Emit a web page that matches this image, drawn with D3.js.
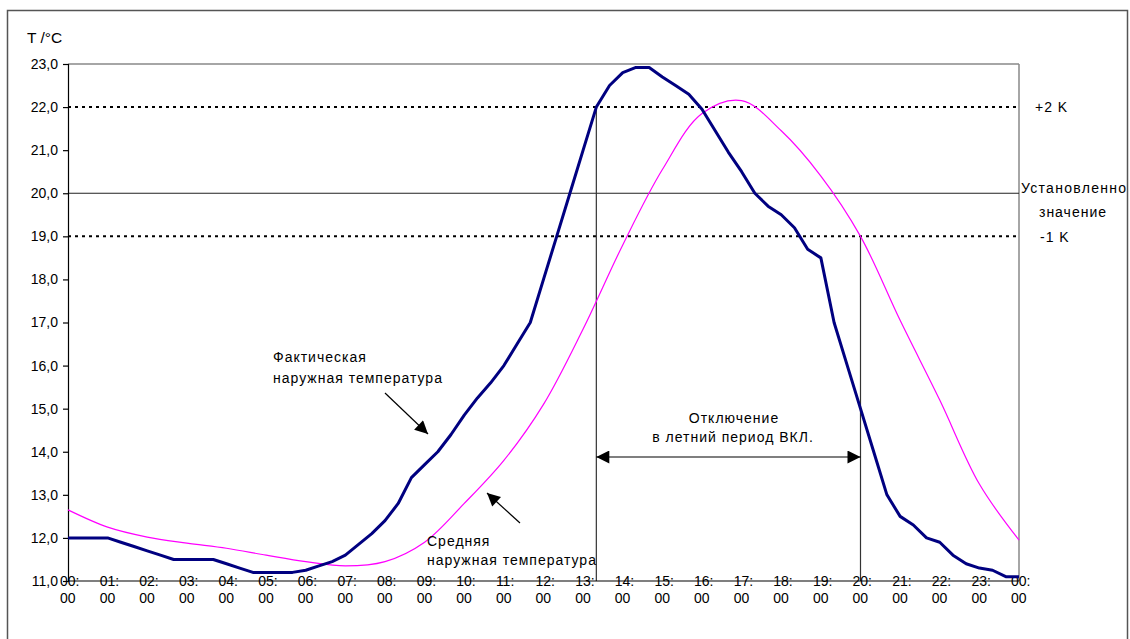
<!DOCTYPE html>
<html><head><meta charset="utf-8">
<script src="https://cdn.jsdelivr.net/npm/d3@7"></script>
<style>
body{margin:0;background:#fff;}
svg{display:block;font-family:"Liberation Sans",Arial,sans-serif;}
</style></head>
<body><svg id="c" width="1130" height="639"></svg>
<script>
// ---- data ----
const hourLabels = ["00","01","02","03","04","05","06","07","08","09","10","11","12","13","14","15","16","17","18","19","20","21","22","23","00"];
const yTicks = [11,12,13,14,15,16,17,18,19,20,21,22,23];
// actual outside temperature, every 20 minutes from 00:00 to 24:00
const actualTemp = [12.0,12.0,12.0,12.0,11.9,11.8,11.7,11.6,11.5,11.5,11.5,11.5,
  11.4,11.3,11.2,11.2,11.2,11.2,11.25,11.35,11.45,11.6,11.85,12.1,
  12.4,12.8,13.4,13.7,14.0,14.4,14.85,15.25,15.6,16.0,16.5,17.0,
  18.0,19.0,20.0,21.0,22.0,22.5,22.8,22.92,22.92,22.7,22.5,22.3,
  21.95,21.45,20.95,20.5,20.0,19.7,19.5,19.2,18.7,18.5,17.0,16.0,
  15.0,14.0,13.0,12.5,12.3,12.0,11.9,11.6,11.4,11.3,11.25,11.1,11.1];
// average outside temperature, hourly
const averageTemp = [12.65,12.25,12.02,11.88,11.76,11.6,11.45,11.35,11.45,11.9,12.8,13.8,
  15.1,16.85,18.8,20.55,21.85,22.15,21.45,20.4,19.0,17.05,15.2,13.25,11.95];
const setpoint = 20, upperBand = 22, lowerBand = 19;
const offStart = 13 + 1/3, offEnd = 20;

const svg = d3.select("#c");
const x = d3.scaleLinear().domain([0,24]).range([68,1019]);
const y = d3.scaleLinear().domain([11,23]).range([581,64]);

// outer frame
svg.append("rect").attr("x",7.5).attr("y",10.5).attr("width",1120).attr("height",700)
  .attr("fill","none").attr("stroke","#555").attr("stroke-width",1.5);

// plot frame top / right (grey)
svg.append("line").attr("x1",x(0)).attr("x2",x(24)).attr("y1",y(23)).attr("y2",y(23)).attr("stroke","#888").attr("stroke-width",1.5);
svg.append("line").attr("x1",x(24)).attr("x2",x(24)).attr("y1",y(23)).attr("y2",y(11)).attr("stroke","#888").attr("stroke-width",1.5);

// reference lines
[upperBand, lowerBand].forEach(v=>{
  svg.append("line").attr("x1",x(0)).attr("x2",x(24)).attr("y1",y(v)).attr("y2",y(v))
    .attr("stroke","#000").attr("stroke-width",2).attr("stroke-dasharray","3,4");
});
svg.append("line").attr("x1",x(0)).attr("x2",x(24)).attr("y1",y(setpoint)).attr("y2",y(setpoint))
  .attr("stroke","#222").attr("stroke-width",1.2);

// vertical switch-off markers
svg.append("line").attr("x1",x(offStart)).attr("x2",x(offStart)).attr("y1",y(upperBand)).attr("y2",y(11)).attr("stroke","#333").attr("stroke-width",1.2);
svg.append("line").attr("x1",x(offEnd)).attr("x2",x(offEnd)).attr("y1",y(lowerBand)).attr("y2",y(11)).attr("stroke","#333").attr("stroke-width",1.2);

// y axis
const yAxis = d3.axisLeft(y).tickValues(yTicks).tickSize(5).tickFormat(d=>d3.format(".1f")(d).replace(".",","));
const gy = svg.append("g").attr("transform",`translate(${x(0)},0)`).call(yAxis);
gy.select(".domain").attr("stroke","#000").attr("stroke-width",1.2);
gy.selectAll(".tick line").attr("stroke","#000").attr("stroke-width",1.2);
gy.selectAll(".tick text").attr("font-size",14).attr("fill","#000").attr("x",-10)
  .style("font-family","Liberation Sans, Arial, sans-serif");

svg.append("text").attr("x",27).attr("y",43).attr("font-size",15.5).text("T /°C");

// x axis labels
const gx = svg.append("g");
hourLabels.forEach((lab,i)=>{
  const t = gx.append("text").attr("font-size",14).attr("fill","#000");
  t.append("tspan").attr("x",x(i)-8).attr("y",586).text(lab+":");
  t.append("tspan").attr("x",x(i)-8).attr("y",603).text("00");
});
svg.append("line").attr("x1",x(0)).attr("x2",x(24)).attr("y1",y(11)).attr("y2",y(11)).attr("stroke","#000").attr("stroke-width",1.2);

// curves
const lineA = d3.line().x((d,i)=>x(i/3)).y(d=>y(d));
svg.append("path").datum(averageTemp)
  .attr("d", d3.line().x((d,i)=>x(i)).y(d=>y(d)).curve(d3.curveCatmullRom.alpha(0.5)))
  .attr("fill","none").attr("stroke","#ff00ff").attr("stroke-width",1.2);
svg.append("path").datum(actualTemp).attr("d",lineA)
  .attr("fill","none").attr("stroke","#000080").attr("stroke-width",3).attr("stroke-linejoin","round");

// arrow markers
const defs = svg.append("defs");
defs.append("marker").attr("id","ah").attr("viewBox","0 0 10 10").attr("refX",10).attr("refY",5)
  .attr("markerWidth",15).attr("markerHeight",13).attr("markerUnits","userSpaceOnUse").attr("orient","auto-start-reverse")
  .append("path").attr("d","M0,0L10,5L0,10Z").attr("fill","#000");

// double arrow
svg.append("line").attr("x1",x(offStart)).attr("x2",x(offEnd)).attr("y1",457).attr("y2",457)
  .attr("stroke","#000").attr("stroke-width",1.2)
  .attr("marker-start","url(#ah)").attr("marker-end","url(#ah)");

// annotation arrows
svg.append("line").attr("x1",385).attr("y1",393).attr("x2",428).attr("y2",434)
  .attr("stroke","#000").attr("stroke-width",1.2).attr("marker-end","url(#ah)");
svg.append("line").attr("x1",520).attr("y1",523).attr("x2",487).attr("y2",493)
  .attr("stroke","#000").attr("stroke-width",1.2).attr("marker-end","url(#ah)");

// texts
function txt(xx,yy,s,anchor){
  return svg.append("text").attr("x",xx).attr("y",yy).attr("font-size",14).attr("letter-spacing",1.0)
    .attr("text-anchor",anchor||"start").attr("fill","#000").text(s);
}
txt(273,362,"Фактическая");
txt(273,383,"наружная температура");
txt(427,546,"Средняя");
txt(427,565,"наружная температура");
txt(734,423,"Отключение","middle");
txt(733,442,"в летний период ВКЛ.","middle");
txt(1035,112,"+2 K");
svg.append("text").attr("x",1021).attr("y",193).attr("font-size",14).attr("letter-spacing",1.3).text("Установленно");
txt(1073,217,"значение","middle");
txt(1040,242,"-1 K");
</script></body></html>
